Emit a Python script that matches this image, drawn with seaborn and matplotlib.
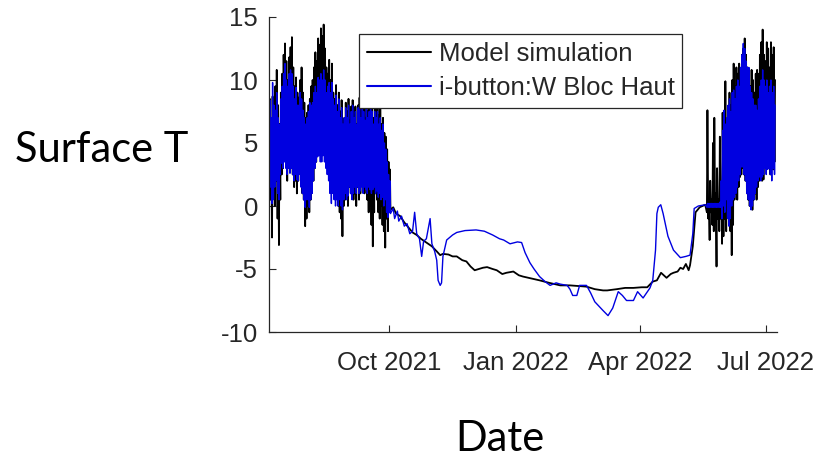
import numpy as np
import pandas as pd
import matplotlib
matplotlib.use("Agg")
import matplotlib.pyplot as plt
import seaborn as sns

START = pd.Timestamp("2021-07-06")

# ---- Summer 2021: daily highs / lows, days 0..87 after START ----
summer1_day0 = 0
model_hi1 = [8.5, 6.0, 8.7, 7.5, 9.5, 10.8, 8.0, 6.5, 9.0, 10.5, 12.0, 12.9, 11.5, 10.0, 11.8, 12.6, 13.4, 11.0,
             9.5, 10.2, 9.0, 8.6, 10.0, 11.0, 9.0, 8.2, 7.0, 7.4, 8.0, 8.5, 9.5, 10.0, 11.0, 12.2, 11.5, 13.3,
             12.8, 14.1, 13.5, 14.4, 12.5, 11.0, 10.5, 11.6, 10.0, 11.3, 9.0, 8.5, 9.6, 8.0, 9.0, 7.5, 8.4, 6.5,
             7.0, 8.2, 7.5, 8.5, 6.8, 7.9, 8.4, 7.2, 7.9, 6.5, 8.0, 8.6, 7.6, 9.0, 8.0, 7.0, 8.8, 7.5, 8.0, 9.0,
             8.5, 7.0, 8.2, 7.8, 8.5, 7.2, 7.8, 6.5, 7.0, 5.8, 5.5, 4.5, 3.5, 2.9]
model_lo1 = [3.0, 0.5, -2.5, 1.0, 0.0, 2.0, -1.0, -3.1, 0.5, 2.5, 3.0, 4.0, 3.5, 2.0, 3.0, 4.5, 3.0, 2.5,
             1.5, 2.0, 1.0, 2.0, 3.0, 2.5, 1.0, 0.5, -1.6, -1.0, 0.0, -0.5, 0.5, 1.5, 2.0, 3.0, 3.5, 4.0,
             4.5, 5.0, 4.0, 5.0, 4.5, 3.5, 3.0, 3.5, 2.0, 1.5, 2.0, 1.0, 0.5, 1.0, 0.0, -0.5, -1.0, -2.4,
             0.0, 0.5, 1.0, 0.0, 1.5, 1.0, 2.0, 0.5, 1.0, 0.0, 1.5, 0.5, 1.0, 2.0, 1.5, 1.0, 1.5, 0.5, -0.5, 0.0,
             -1.5, -3.2, -0.5, 1.0, 0.5, -0.5, -1.0, 0.0, -1.5, -2.0, -3.3, -1.0, -2.0, -0.5]
obs_hi1 = [8.4, 7.0, 9.8, 8.0, 7.6, 9.0, 7.0, 6.5, 8.5, 9.5, 10.5, 11.3, 10.0, 9.5, 10.5, 10.8, 10.5, 9.5,
           8.5, 9.4, 8.0, 8.0, 9.0, 8.5, 7.6, 7.0, 6.5, 7.0, 7.5, 8.2, 8.0, 8.2, 9.0, 9.5, 9.0, 10.2,
           10.0, 10.5, 10.0, 10.8, 10.0, 9.0, 9.5, 9.8, 9.0, 9.8, 8.5, 8.0, 8.8, 7.5, 8.5, 7.0, 7.8, 6.5,
           7.0, 7.8, 7.0, 8.0, 6.5, 7.5, 8.0, 7.0, 7.5, 6.5, 7.8, 8.0, 7.0, 8.5, 7.5, 6.8, 8.0, 7.0, 7.5, 8.0,
           7.5, 6.5, 7.5, 7.0, 7.5, 6.5, 7.0, 6.0, 6.5, 5.0, 4.5, 3.5, 2.5, 2.0]
obs_lo1 = [0.7, 1.5, 0.2, 0.5, 1.5, 2.0, 1.0, 0.5, 2.5, 3.4, 3.0, 3.5, 3.0, 2.5, 3.0, 2.6, 3.0, 2.5,
           2.0, 2.5, 2.1, 2.0, 2.5, 1.5, 1.0, 0.5, -0.1, 0.5, 0.5, -0.1, 0.5, 1.0, 2.0, 3.0, 3.5, 3.9,
           4.0, 3.5, 3.5, 4.0, 3.5, 3.0, 2.5, 2.0, 1.0, 0.2, 1.0, 0.5, 0.0, 0.5, 0.0, 0.5, 0.0, -0.3,
           0.5, 1.0, 0.5, 0.8, 1.5, 1.0, 0.5, 1.0, 1.5, 1.0, 1.5, 1.0, 1.2, 1.5, 1.0, 1.5, 1.3, 1.0, 1.5, 1.3,
           1.0, 1.3, 1.5, 1.0, 1.2, 0.7, 1.0, 0.5, 0.7, 0.0, 0.5, -0.5, -0.9, -0.5]

# ---- Autumn / winter / spring: smooth values at given day offsets ----
model_w_days = [88, 90, 92, 95, 98, 101, 104, 107, 110, 114, 118, 121.5, 124, 126, 130, 133, 136, 140, 143,
                146, 149, 152, 155, 158, 162, 165, 169, 172, 177, 181, 184, 190, 196, 203, 211, 218, 224, 230,
                236, 242, 245, 252, 258, 264, 270, 274, 278, 281, 284, 286, 288, 291, 293, 296, 298, 300, 302,
                304, 305, 307, 309, 312, 316]
model_w_vals = [-0.3, -0.1, -0.6, -0.8, -1.3, -1.7, -2.1, -2.3, -2.6, -2.9, -3.2, -3.6, -3.9, -3.8, -3.85,
                -4.0, -4.0, -4.3, -4.4, -4.8, -5.1, -5.0, -4.9, -4.85, -5.0, -5.1, -5.4, -5.3, -5.2, -5.5,
                -5.6, -5.75, -5.9, -6.1, -6.3, -6.3, -6.35, -6.4, -6.6, -6.7, -6.7, -6.6, -6.5, -6.5, -6.45,
                -6.45, -6.0, -5.9, -5.3, -5.5, -5.7, -5.4, -5.3, -5.2, -4.9, -5.0, -4.6, -5.1, -4.7, -3.2,
                -0.5, -0.1, 0.1]
obs_w_days = [88, 90, 91, 93, 94, 96, 98, 100, 102, 104, 105.5, 107, 109, 110.6, 112, 114, 116.7, 118, 120,
              121.5, 122.5, 124, 125, 126, 128.7, 133, 136, 142, 150, 156, 162, 167, 170, 174.6, 180, 183,
              185.5, 189, 192, 196, 200, 203.6, 208, 211, 216, 218, 220, 223, 225, 230, 233, 236, 242, 245.6,
              249, 253, 256, 259, 264, 267, 271, 276, 278, 280, 281, 282, 283.8, 285.5, 289, 293, 298, 302,
              305, 307, 308, 311, 316]
obs_w_vals = [-0.6, -0.2, -1.0, -0.4, -1.2, -0.8, -1.6, -1.4, -2.2, -2.0, -0.5, -2.2, -2.6, -4.0, -2.8, -2.6,
              -1.0, -3.0, -3.6, -4.3, -5.9, -6.3, -6.1, -4.0, -2.7, -2.3, -2.1, -1.95, -1.9, -2.0, -2.3, -2.6,
              -2.7, -3.0, -2.85, -2.9, -3.7, -4.5, -5.0, -5.6, -6.0, -6.3, -6.1, -6.2, -6.3, -6.6, -7.1, -7.1,
              -6.3, -6.3, -6.9, -7.6, -8.3, -8.7, -8.1, -6.8, -7.1, -7.5, -7.5, -6.8, -7.3, -6.5, -5.9, -3.5,
              -0.6, -0.1, 0.1, -0.6, -2.4, -3.5, -4.1, -4.0, -3.9, -2.2, -0.2, 0.0, 0.1]

# ---- Summer 2022: daily highs / lows, days 317..366 after START ----
summer2_day0 = 317
model_hi2 = [7.6, 0.5, 2.0, 0.5, 5.0, 7.0, 1.0, 3.0, 0.5, 5.5, 1.5, 7.4, 4.0, 9.9, 6.0, 7.5, 9.0, 8.0, 10.0,
             11.3, 9.5, 11.0, 10.5, 11.3, 10.0, 12.0, 12.5, 13.3, 12.0, 11.0, 10.0, 9.5, 10.8, 10.0, 9.0, 10.5,
             10.8, 10.5, 12.0, 13.0, 14.0, 12.0, 11.5, 13.0, 12.5, 11.0, 13.0, 12.0, 12.6, 10.0]
model_lo2 = [-0.5, -1.0, -2.7, -0.5, -1.5, -2.0, -1.0, -4.8, -1.0, -2.0, -1.0, -3.0, -2.4, -1.0, -2.0, -0.5,
             -1.5, -2.0, -3.9, -1.5, 0.5, 1.0, 0.5, 1.5, 2.3, 2.5, 3.0, 2.5, 2.0, 1.0, 0.5, 0.0, 0.5, -0.3,
             0.5, 1.0, 0.5, 1.5, 2.0, 2.5, 2.0, 2.1, 3.0, 3.5, 3.0, 3.0, 2.5, 3.0, 2.9, 3.5]
obs_hi2 = [0.2, 0.2, 0.2, 0.2, 0.2, 0.2, 0.2, 0.2, 0.2, 0.3, 2.0, 6.0, 7.6, 6.5, 7.0, 8.0, 8.5, 7.5, 9.0,
           9.2, 8.5, 9.5, 10.0, 9.5, 11.0, 12.0, 12.9, 12.5, 11.5, 11.0, 11.0, 9.5, 9.0, 8.5, 8.0, 8.0,
           7.6, 8.5, 9.5, 10.0, 10.8, 10.0, 9.5, 10.0, 9.0, 9.5, 10.0, 9.0, 9.5, 8.0]
obs_lo2 = [-0.1, -0.1, -0.1, -0.1, -0.1, -0.1, -0.1, -0.1, -0.1, -0.1, -0.1, -1.0, 0.0, -0.5, 0.5, -1.0,
           -1.6, -1.0, 0.0, 0.5, 0.7, 1.0, 1.5, 2.0, 2.5, 3.1, 3.1, 2.5, 2.0, 1.0, 0.5, 0.0, -0.3, 0.0,
           0.5, 1.0, 1.5, 2.0, 2.3, 2.0, 2.3, 2.5, 3.0, 2.5, 2.9, 3.0, 2.5, 2.0, 3.0, 2.5]

x_ticks = ["2021-10-01", "2022-01-01", "2022-04-01", "2022-07-01"]
y_ticks = [-10, -5, 0, 5, 10, 15]
labels = ["Model simulation", "i-button:W Bloc Haut"]


def daily(day0, hi, lo):
    t, v = [], []
    for i, (h, l) in enumerate(zip(hi, lo)):
        t += [day0 + i + 0.2, day0 + i + 0.6]
        v += [l, h]
    return t, v


def build(hi1, lo1, wd, wv, hi2, lo2):
    t1, v1 = daily(summer1_day0, hi1, lo1)
    t2, v2 = daily(summer2_day0, hi2, lo2)
    t = t1 + list(wd) + t2
    v = v1 + list(wv) + v2
    return pd.DataFrame({"date": START + pd.to_timedelta(t, unit="D"), "T": v})


model_df = build(model_hi1, model_lo1, model_w_days, model_w_vals, model_hi2, model_lo2)
obs_df = build(obs_hi1, obs_lo1, obs_w_days, obs_w_vals, obs_hi2, obs_lo2)

sns.set_theme(style="ticks")
plt.rcParams["font.family"] = ["Liberation Sans", "DejaVu Sans"]
plt.rcParams["axes.unicode_minus"] = False

fig = plt.figure(figsize=(8.15, 4.58), dpi=100)
ax = fig.add_axes([269 / 815, 1 - 332 / 458, 508 / 815, 315 / 458])

sns.lineplot(data=model_df, x="date", y="T", ax=ax, color="black", lw=1.3,
             estimator=None, sort=False, label=labels[0])
sns.lineplot(data=obs_df, x="date", y="T", ax=ax, color="#0000e0", lw=1.0,
             estimator=None, sort=False, label=labels[1])

ax.set_xlim(START, START + pd.Timedelta(days=368))
ax.set_ylim(-10, 15)
ax.set_yticks(y_ticks)
ax.set_yticklabels([str(v) for v in y_ticks])
ax.set_xticks(pd.to_datetime(x_ticks))
ax.set_xticklabels([pd.Timestamp(d).strftime("%b %Y") for d in x_ticks])
ax.tick_params(direction="in", length=5, width=0.8, labelsize=18.5, colors="#262626", pad=8)
ax.tick_params(axis="x", pad=14)
for s in ["top", "right"]:
    ax.spines[s].set_visible(False)
for s in ["left", "bottom"]:
    ax.spines[s].set_color("#262626")
    ax.spines[s].set_linewidth(0.9)
ax.set_xlabel("")
ax.set_ylabel("")

leg = ax.legend(loc="upper left", bbox_to_anchor=(0.177, 0.945), borderaxespad=0, fontsize=18.5,
                frameon=True, fancybox=False, edgecolor="#262626", handlelength=2.5, handletextpad=0.3,
                labelspacing=0.4, borderpad=0.3)
leg.get_frame().set_linewidth(0.9)
leg.get_frame().set_alpha(1)
for line in leg.get_lines():
    line.set_linewidth(1.5)

fig.text(102 / 815, 1 - 150 / 458, "Surface T", fontsize=30, family=["Lato", "DejaVu Sans"],
         ha="center", va="center", color="black")
fig.text(500 / 815, 1 - 439 / 458, "Date", fontsize=30, family=["Lato", "DejaVu Sans"],
         ha="center", va="center", color="black")

fig.savefig("out.png", dpi=100)
